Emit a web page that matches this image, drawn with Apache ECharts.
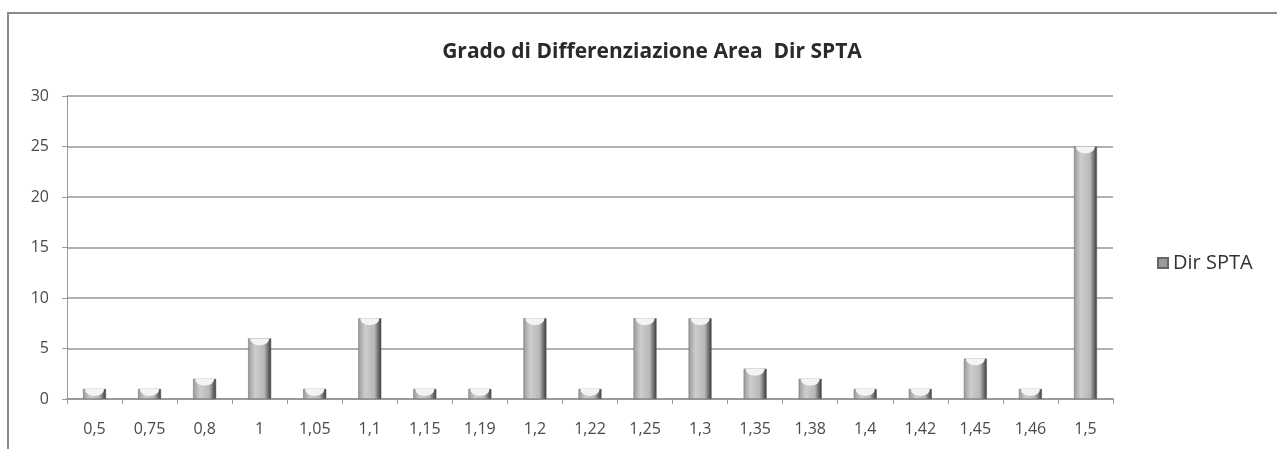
<!DOCTYPE html>
<html>
<head>
<meta charset="utf-8">
<script src="https://cdn.jsdelivr.net/npm/echarts@6/dist/echarts.min.js"></script>
<style>
  html, body { margin: 0; padding: 0; background: #fff; }
  #chart { width: 1277px; height: 449px; }
</style>
</head>
<body>
<div id="chart"></div>
<script>
// dati
const categories = ["0,5", "0,75", "0,8", "1", "1,05", "1,1", "1,15", "1,19", "1,2", "1,22",
  "1,25", "1,3", "1,35", "1,38", "1,4", "1,42", "1,45", "1,46", "1,5"];
const dirSpta = [1, 1, 2, 6, 1, 8, 1, 1, 8, 1, 8, 8, 3, 2, 1, 1, 4, 1, 25];
const yTicks = [0, 5, 10, 15, 20, 25, 30];

const chart = echarts.init(document.getElementById("chart"));

const barFill = new echarts.graphic.LinearGradient(0, 0, 1, 0, [
  { offset: 0, color: "#9a9a9a" },
  { offset: 0.3, color: "#cdcdcd" },
  { offset: 0.7, color: "#b8b8b8" },
  { offset: 0.85, color: "#777" },
  { offset: 1, color: "#3a3a3a" }
]);

const option = {
  animation: false,
  textStyle: { fontFamily: "Open Sans" },
  title: {
    text: "Grado di Differenziazione Area  Dir SPTA",
    left: 647,
    textAlign: "center",
    top: 37,
    textStyle: { fontSize: 21, fontWeight: "bold", color: "#2a2a2a", fontFamily: "Open Sans" }
  },
  legend: {
    orient: "vertical",
    left: 1152,
    top: 248,
    itemWidth: 10,
    itemHeight: 10,
    itemGap: 6,
    textStyle: { fontSize: 20, color: "#333" },
    data: [{ name: "Dir SPTA", icon: "rect", itemStyle: { color: "#9a9a9a" } }]
  },
  grid: { left: 67, right: 164, top: 96, bottom: 50, containLabel: false },
  xAxis: {
    type: "category",
    data: categories,
    axisLine: { lineStyle: { color: "#9a9a9a", width: 2 } },
    axisTick: { show: true, interval: 0, length: 5, lineStyle: { color: "#9a9a9a" } },
    axisLabel: { interval: 0, fontSize: 16, color: "#4a4a4a", margin: 22 }
  },
  yAxis: {
    type: "value",
    min: yTicks[0],
    max: yTicks[yTicks.length - 1],
    interval: 5,
    axisLine: { show: true, lineStyle: { color: "#9a9a9a", width: 1 } },
    axisTick: { show: true, length: 5, lineStyle: { color: "#9a9a9a" } },
    axisLabel: { fontSize: 16, color: "#4a4a4a", margin: 18 },
    splitLine: { lineStyle: { color: "#b0b0b0", width: 2 } }
  },
  series: [{
    name: "Dir SPTA",
    type: "bar",
    data: dirSpta,
    barWidth: 23,
    barGap: "-100%",
    itemStyle: { color: barFill, borderColor: "#666", borderWidth: 0.5 }
  }, {
    // tappo chiaro in cima alle barre (effetto 3D)
    name: "cap",
    type: "pictorialBar",
    data: dirSpta,
    symbol: "path://M0,0 L20,0 Q20,6 10,7 Q0,6 0,0 Z",
    symbolSize: [19, 7],
    symbolPosition: "end",
    symbolOffset: [0, 0],
    barGap: "-100%",
    itemStyle: { color: "#f4f4f4" },
    z: 3,
    silent: true
  }],
  graphic: [{
    type: "rect",
    shape: { x: 8, y: 13, width: 1300, height: 460 },
    style: { fill: "none", stroke: "#8a8a8a", lineWidth: 2 },
    silent: true
  }]
};

chart.setOption(option);
</script>
</body>
</html>
